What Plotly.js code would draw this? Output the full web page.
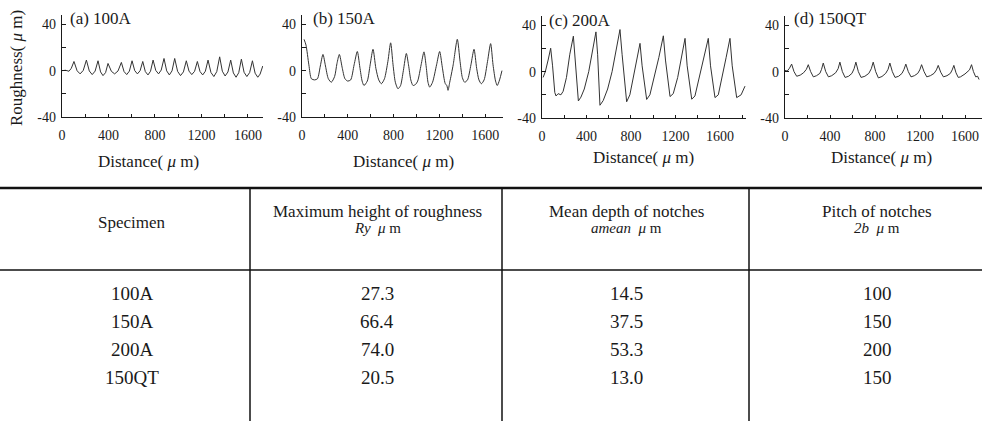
<!DOCTYPE html>
<html>
<head>
<meta charset="utf-8">
<script src="https://cdn.plot.ly/plotly-3.0.1.min.js"></script>
<style>html,body{margin:0;padding:0;background:#fff;}#chart{width:982px;height:421px;}</style>
</head>
<body>
<div id="chart"></div>
<script>
// ---- Profile data (distance in um, roughness in um) ----
const panelLabels = ['(a) 100A', '(b) 150A', '(c) 200A', '(d) 150QT'];

const xA = [0, 30, 60, 80, 103, 130, 156, 183, 210, 235, 260, 285, 310, 332, 353, 375, 396, 425, 453, 482, 511, 534, 557, 580, 603, 626, 649, 672, 695, 717, 740, 762, 784, 807, 831, 854, 878, 901, 924, 947, 970, 995, 1020, 1045, 1070, 1093, 1117, 1141, 1165, 1188, 1211, 1234, 1257, 1282, 1307, 1332, 1357, 1380, 1404, 1428, 1452, 1475, 1498, 1521, 1544, 1567, 1591, 1615, 1639, 1662, 1685, 1705, 1728];
const yA = [0, 0.3, -0.5, 2, 7.9, -0.1, -2.8, 0.2, 9.1, -0.3, -3.4, -0.4, 8.5, -1.1, -4.3, -1.7, 6.2, -0.6, -2.8, -0.3, 7.1, -0.8, -3.4, -0.4, 8.5, 0.0, -2.8, -0.1, 7.9, -0.8, -3.7, -0.5, 9.1, 0.2, -2.8, 0.5, 10.5, -0.2, -3.7, -0.2, 10.5, -0.6, -4.3, -1.1, 8.5, -0.4, -3.4, -0.6, 7.9, -0.8, -3.7, -0.5, 9.1, -1.6, -5.1, -0.9, 11.9, -0.5, -4.6, -1.2, 9.1, -2.0, -5.7, -1.8, 9.9, -1.4, -5.1, -1.7, 8.5, -2.2, -5.7, -3.0, 4.0];

const xB = [18, 35, 60, 82, 110, 135, 160, 183, 205, 230, 256, 285, 305, 326, 350, 375, 399, 425, 455, 483, 505, 525, 541, 570, 595, 620, 645, 670, 693, 720, 750, 774, 795, 815, 838, 860, 885, 911, 930, 950, 969, 990, 1010, 1040, 1065, 1085, 1100, 1115, 1140, 1175, 1202, 1225, 1250, 1265, 1275, 1290, 1320, 1356, 1380, 1400, 1420, 1445, 1475, 1502, 1525, 1545, 1566, 1590, 1620, 1647, 1668, 1690, 1705, 1725, 1746];
const yB = [27, 22, 5, -7, -8, -7, 4, 14, 4, -7, -10, -5, 6, 14, 3, -7, -9, -8, 5, 16.5, 3, -9, -12.8, -9, 5, 18.4, 2, -8, -11.3, -7, 8, 24, 5, -10, -15.6, -13, 0, 14.8, 5, -8, -12.8, -12, -9, 5, 16.2, 3, -10, -14.2, -10, 5, 16.5, 3, -11, -13, -17, -10, 5, 27, 8, -6, -10, -8, 5, 18.4, 2, -8, -11.3, -8, 8, 23.3, 5, -9, -12.8, -8, 0];

const xC = [10, 30, 55, 78, 95, 115, 126, 145, 170, 190, 220, 250, 282, 300, 327, 350, 380, 420, 455, 485, 500, 521, 550, 590, 630, 670, 701, 720, 761, 790, 820, 855, 881, 900, 941, 970, 1010, 1050, 1091, 1110, 1151, 1180, 1220, 1255, 1286, 1305, 1346, 1375, 1415, 1455, 1495, 1515, 1555, 1585, 1620, 1655, 1690, 1710, 1750, 1790, 1825];
const yC = [-5, 0, 10, 20.2, 5, -18, -21, -19, -20, -17, -5, 15, 30.6, 10, -25.3, -22, -15, 0, 20, 34.3, 15, -29, -25, -15, 0, 22, 36.3, 15, -26, -20, -5, 12, 24.4, 5, -24, -20, -5, 12, 30.9, 10, -21.5, -19, -5, 12, 28.7, 5, -23.8, -21, -5, 12, 28.7, 5, -22.4, -20, -5, 12, 28.7, 5, -22.4, -20, -12.5];

const xD = [0, 20, 40, 59, 80, 104, 135, 165, 190, 207, 228, 252, 280, 310, 325, 340, 362, 386, 415, 450, 472, 488, 510, 534, 565, 595, 614, 630, 652, 676, 710, 745, 767, 784, 806, 830, 862, 895, 916, 932, 954, 978, 1010, 1040, 1058, 1074, 1096, 1120, 1150, 1180, 1198, 1214, 1236, 1260, 1292, 1325, 1346, 1362, 1384, 1408, 1440, 1470, 1486, 1501, 1520, 1540, 1560, 1600, 1640, 1658, 1675, 1695, 1712, 1725];
const yD = [1.0, 0.5, 3, 6.5, 0, -4.0, -3.0, -1.0, 2.0, 6.0, 0, -4.5, -3.5, -1.5, 2.0, 7.4, 0, -4.5, -3.5, -1.0, 2.5, 8.2, 0, -5.0, -4.0, -1.5, 2.5, 8.2, 0, -5.0, -4.0, -1.5, 2.5, 8.2, 0, -5.4, -4.2, -1.5, 2.0, 7.4, 0, -5.0, -4.0, -1.5, 2.0, 6.5, 0, -4.5, -3.5, -1.5, 1.5, 6.0, 0, -4.5, -3.5, -1.5, 1.5, 5.4, -0.5, -4.5, -3.5, -1.5, 1.5, 5.4, -1.0, -5.0, -4.5, -2.0, 1.5, 6.0, 0, -4.5, -4.0, -6.8];

// axis ticks
const xTickVals = [0, 200, 400, 600, 800, 1000, 1200, 1400, 1600, 1800];
const xTickText = ['0', '', '400', '', '800', '', '1200', '', '1600', ''];
const yTickVals = [-40, -20, 0, 20, 40];
const yTickText = ['-40', '', '0', '', '40'];
const xTitle = 'Distance( <i>μ</i> m)';
const yTitle = 'Roughness( <i>μ</i> m)';

// ---- Table data ----
const tableHeader1 = ['Specimen', 'Maximum height of roughness', 'Mean depth of notches', 'Pitch of notches'];
const tableHeader2 = ['', '<i>Ry</i>  <i>μ</i> m', '<i>amean</i>  <i>μ</i> m', '<i>2b</i>  <i>μ</i> m'];
const specimens = ['100A', '150A', '200A', '150QT'];
const maxHeightRy = [27.3, 66.4, 74.0, 20.5];
const meanDepth = [14.5, 37.5, 53.3, 13.0];
const pitchNotches = [100, 150, 200, 150];

// ---- layout helpers (pixel -> paper) ----
const W = 982, H = 421;
const px = v => v / W;
const py = v => 1 - v / H;
const FONT = 'Liberation Serif, Times New Roman, serif';
const INK = '#1a1a1a';

const panels = [
  {x: xA, y: yA, x0: 62, x1: 263, xr: 1730, top: 15, bot: 117, title: [148, 162], lab: [68, 18]},
  {x: xB, y: yB, x0: 302, x1: 503, xr: 1755, top: 15, bot: 117, title: [403, 162], lab: [311, 18]},
  {x: xC, y: yC, x0: 542, x1: 746, xr: 1834, top: 16, bot: 118, title: [643, 157], lab: [547, 20]},
  {x: xD, y: yD, x0: 785, x1: 982, xr: 1751, top: 16, bot: 118, title: [881, 157], lab: [792, 18]}
];

const data = [];
const layout = {
  width: W, height: H,
  margin: {l: 0, r: 0, t: 0, b: 0},
  paper_bgcolor: '#fff', plot_bgcolor: 'rgba(0,0,0,0)',
  showlegend: false,
  annotations: [], shapes: []
};

panels.forEach((p, i) => {
  const n = i === 0 ? '' : String(i + 1);
  data.push({
    type: 'scatter', mode: 'lines', x: p.x, y: p.y,
    xaxis: 'x' + n, yaxis: 'y' + n,
    line: {color: '#333', width: 1, shape: i === 1 ? 'spline' : 'linear', smoothing: 0.7},
    hoverinfo: 'skip'
  });
  layout['xaxis' + n] = {
    domain: [px(p.x0), px(p.x1)], range: [0, p.xr], anchor: 'y' + n,
    tickvals: xTickVals, ticktext: xTickText, ticks: 'inside', ticklen: 3, tickwidth: 1, tickcolor: INK,
    showline: true, linecolor: INK, linewidth: 1.2, showgrid: false, zeroline: false,
    tickfont: {family: FONT, size: 14, color: INK}, ticklabelstandoff: 5, fixedrange: true
  };
  layout['yaxis' + n] = {
    domain: [py(p.bot), py(p.top)], range: [-40, 48], anchor: 'x' + n,
    tickvals: yTickVals, ticktext: yTickText, ticks: 'inside', ticklen: 4, tickwidth: 1, tickcolor: INK,
    showline: true, linecolor: INK, linewidth: 1.2, showgrid: false, zeroline: false,
    tickfont: {family: FONT, size: 14, color: INK}, ticklabelstandoff: 2, fixedrange: true
  };
  layout.annotations.push({
    xref: 'paper', yref: 'paper', x: px(p.lab[0]), y: py(p.lab[1]), xanchor: 'left', yanchor: 'middle',
    text: panelLabels[i], showarrow: false, font: {family: FONT, size: 17, color: INK}
  });
  layout.annotations.push({
    xref: 'paper', yref: 'paper', x: px(p.title[0]), y: py(p.title[1]), xanchor: 'center', yanchor: 'middle',
    text: xTitle, showarrow: false, font: {family: FONT, size: 17, color: INK}
  });
});

layout.annotations.push({
  xref: 'paper', yref: 'paper', x: px(17), y: py(68), xanchor: 'center', yanchor: 'middle',
  text: yTitle, textangle: -90, showarrow: false, font: {family: FONT, size: 17, color: INK}
});

// ---- table ----
const colCenters = [132, 377, 626, 877];
const colLines = [250, 502, 749];
const tableTop = 188, headerBottom = 270;
const rowCenters = [293, 321, 349, 377];

layout.shapes.push({type: 'line', xref: 'paper', yref: 'paper', x0: 0, x1: 1, y0: py(tableTop), y1: py(tableTop), line: {color: '#111', width: 2.5}});
layout.shapes.push({type: 'line', xref: 'paper', yref: 'paper', x0: 0, x1: 1, y0: py(headerBottom), y1: py(headerBottom), line: {color: '#111', width: 1.5}});
colLines.forEach(cx => layout.shapes.push({type: 'line', xref: 'paper', yref: 'paper', x0: px(cx), x1: px(cx), y0: py(tableTop), y1: 0, line: {color: '#111', width: 1.5}}));

tableHeader1.forEach((t, c) => {
  const two = tableHeader2[c] !== '';
  layout.annotations.push({xref: 'paper', yref: 'paper', x: px(colCenters[c]), y: py(two ? 211 : 222), xanchor: 'center', yanchor: 'middle',
    text: t, showarrow: false, font: {family: FONT, size: 17, color: INK}});
  if (two) layout.annotations.push({xref: 'paper', yref: 'paper', x: px(colCenters[c]), y: py(228), xanchor: 'center', yanchor: 'middle',
    text: tableHeader2[c], showarrow: false, font: {family: FONT, size: 15, color: INK}});
});

const columns = [specimens, maxHeightRy.map(v => v.toFixed(1)), meanDepth.map(v => v.toFixed(1)), pitchNotches.map(String)];
columns.forEach((col, c) => col.forEach((t, r) => {
  layout.annotations.push({xref: 'paper', yref: 'paper', x: px(colCenters[c]), y: py(rowCenters[r]), xanchor: 'center', yanchor: 'middle',
    text: t, showarrow: false, font: {family: FONT, size: 19, color: INK}});
}));

Plotly.newPlot('chart', data, layout, {staticPlot: true, displayModeBar: false});
</script>
</body>
</html>
